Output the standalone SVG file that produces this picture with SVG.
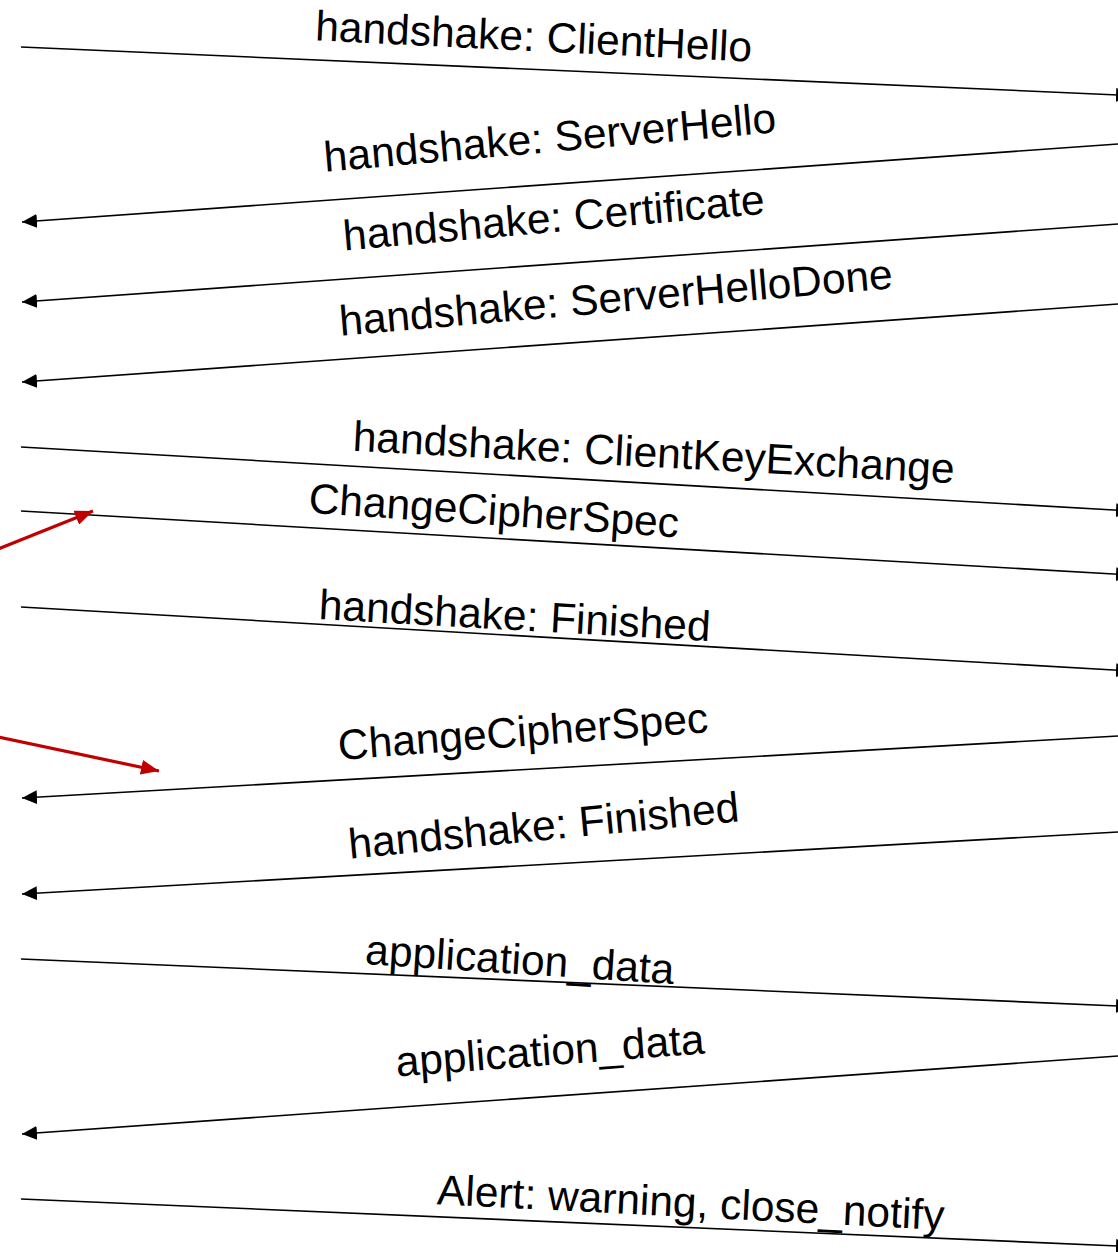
<svg xmlns="http://www.w3.org/2000/svg" width="1118" height="1252" viewBox="0 0 1118 1252">
<style>
.msg{stroke:#000;stroke-width:1.6;fill:none;marker-end:url(#ah)}
.red{stroke:#c00000;stroke-width:3.2;fill:none;marker-end:url(#rh)}
text{font-family:"Liberation Sans",Arial,sans-serif;font-size:42.5px;fill:#000;text-anchor:middle}
</style>
<defs>
<marker id="ah" markerUnits="userSpaceOnUse" markerWidth="16" markerHeight="14" refX="15" refY="7" orient="auto">
<path d="M0,0 L15,7 L0,14 z" fill="#000"/>
</marker>
<marker id="rh" markerUnits="userSpaceOnUse" markerWidth="19" markerHeight="15" refX="18" refY="7.5" orient="auto">
<path d="M0,0 L18,7.5 L0,15 z" fill="#c00000"/>
</marker>
</defs>
<g id="connectors">
<line class="msg" x1="21" y1="47" x2="1131" y2="95.5"/>
<line class="msg" x1="1118" y1="144" x2="22" y2="222"/>
<line class="msg" x1="1118" y1="224" x2="22" y2="302"/>
<line class="msg" x1="1118" y1="304" x2="22" y2="382"/>
<line class="msg" x1="21" y1="447" x2="1131" y2="511"/>
<line class="msg" x1="21" y1="511" x2="1131" y2="575"/>
<line class="msg" x1="21" y1="607" x2="1131" y2="671"/>
<line class="msg" x1="1118" y1="736" x2="22" y2="798"/>
<line class="msg" x1="1118" y1="832" x2="22" y2="894"/>
<line class="msg" x1="21" y1="959" x2="1131" y2="1006.5"/>
<line class="msg" x1="1118" y1="1056" x2="22" y2="1134"/>
<line class="msg" x1="21" y1="1199" x2="1131" y2="1246.5"/>
<line class="red" x1="-2" y1="549" x2="93" y2="511"/>
<line class="red" x1="-2" y1="737" x2="159" y2="771"/>
</g>
<g id="label-clienthello"><text transform="translate(533,51) rotate(2.8)">handshake: ClientHello</text></g>
<g id="label-serverhello"><text transform="translate(551,152) rotate(-5)">handshake: ServerHello</text></g>
<g id="label-certificate"><text transform="translate(555,232) rotate(-5)">handshake: Certificate</text></g>
<g id="label-serverhellodone"><text transform="translate(617,312) rotate(-4.9)">handshake: ServerHelloDone</text></g>
<g id="label-clientkeyexchange"><text transform="translate(653,467) rotate(3.1)">handshake: ClientKeyExchange</text></g>
<g id="label-ccs-client"><text transform="translate(493,525) rotate(3.8)">ChangeCipherSpec</text></g>
<g id="label-finished-client"><text transform="translate(514,630) rotate(3.2)">handshake: Finished</text></g>
<g id="label-ccs-server"><text transform="translate(524,746) rotate(-4.3)">ChangeCipherSpec</text></g>
<g id="label-finished-server"><text transform="translate(545,840) rotate(-5.5)">handshake: Finished</text></g>
<g id="label-appdata-client"><text transform="translate(519,974) rotate(3.7)">application_data</text></g>
<g id="label-appdata-server"><text transform="translate(551,1065) rotate(-4.3)">application_data</text></g>
<g id="label-alert"><text transform="translate(690,1217) rotate(2.9)">Alert: warning, close_notify</text></g>
</svg>
